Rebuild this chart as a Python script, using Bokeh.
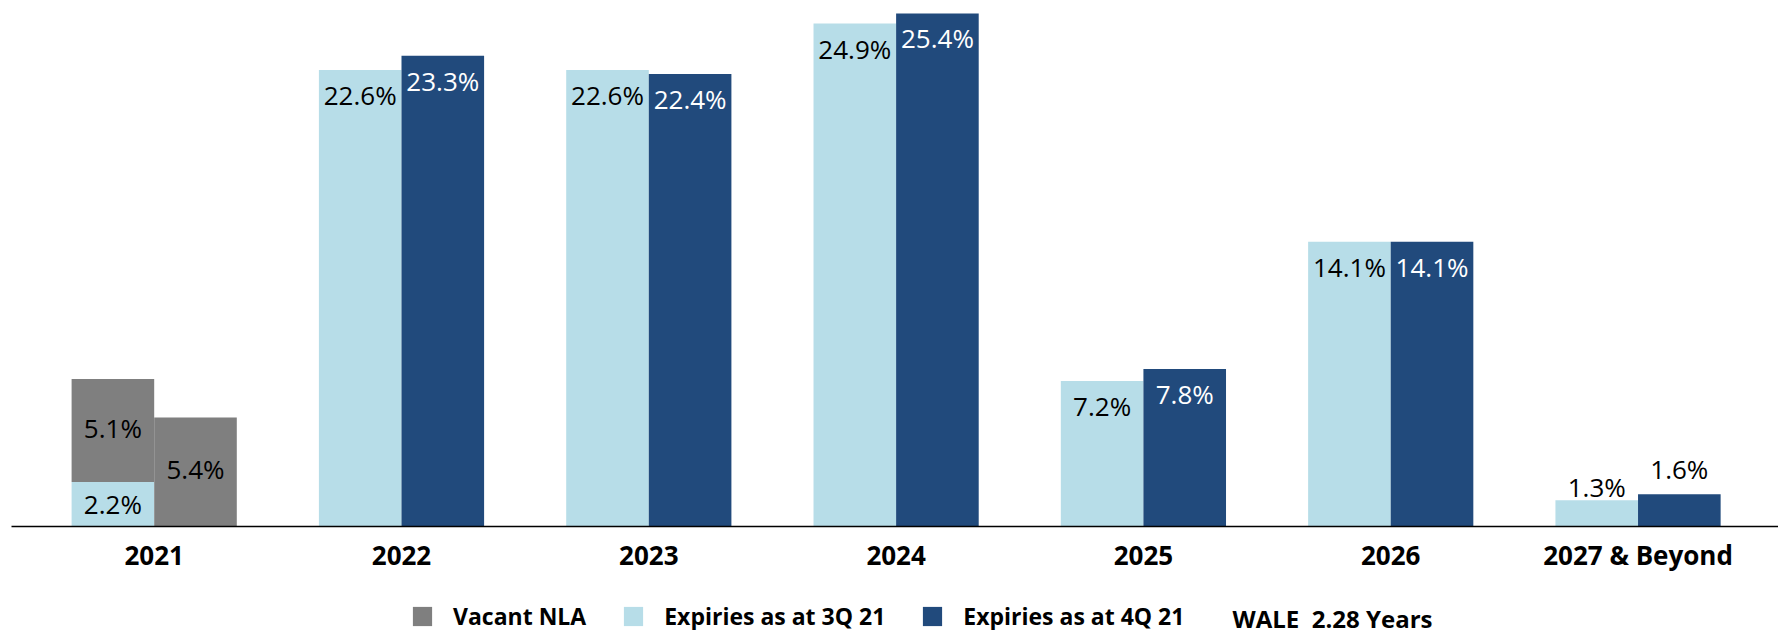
from bokeh.plotting import figure
from bokeh.layouts import column
from bokeh.models import (ColumnDataSource, Range1d, FixedTicker, Legend, LegendItem, Label)
from bokeh.core.properties import value
from bokeh.embed import file_html
from bokeh.resources import INLINE

# ---- data ----
categories = ["2021", "2022", "2023", "2024", "2025", "2026", "2027 & Beyond"]
expiry_3q = [2.2, 22.6, 22.6, 24.9, 7.2, 14.1, 1.3]
expiry_4q = [0.0, 23.3, 22.4, 25.4, 7.8, 14.1, 1.6]
vacant_3q = [5.1, 0, 0, 0, 0, 0, 0]
vacant_4q = [5.4, 0, 0, 0, 0, 0, 0]
wale_years = 2.28
legend_labels = ["Vacant NLA", "Expiries as at 3Q 21", "Expiries as at 4Q 21"]

# ---- styles ----
GREY = "#7f7f7f"
LIGHT = "#b7dde8"
DARK = "#214a7c"
FONT = "Open Sans"
BAR_W = 0.334
HALF = BAR_W / 2

xs = list(range(len(categories)))
x3 = [x - HALF for x in xs]
x4 = [x + HALF for x in xs]

src3 = ColumnDataSource(dict(x=x3, top=expiry_3q))
src4 = ColumnDataSource(dict(x=x4, top=expiry_4q))
vac_x = x3 + x4
vac_bottom = expiry_3q + expiry_4q
vac_top = [b + v for b, v in zip(expiry_3q, vacant_3q)] + [b + v for b, v in zip(expiry_4q, vacant_4q)]
srcv = ColumnDataSource(dict(x=vac_x, bottom=vac_bottom, top=vac_top))

p = figure(width=1778, height=590, output_backend="svg", toolbar_location=None,
           x_range=Range1d(-0.577, 6.568), y_range=Range1d(0, 26.04),
           y_axis_location=None, min_border_left=11, min_border_right=0,
           min_border_top=0, min_border_bottom=64)
p.outline_line_color = None
p.xgrid.visible = False
p.ygrid.visible = False
p.background_fill_color = "white"
p.border_fill_color = "white"

r3 = p.vbar(x="x", top="top", bottom=0, width=BAR_W, source=src3, fill_color=LIGHT, line_color=None)
r4 = p.vbar(x="x", top="top", bottom=0, width=BAR_W, source=src4, fill_color=DARK, line_color=None)
rv = p.vbar(x="x", top="top", bottom="bottom", width=BAR_W, source=srcv, fill_color=GREY, line_color=None)

# ---- data labels ----
lx, ly, lt, lc, lo = [], [], [], [], []
for i in xs:
    stacked = vacant_3q[i] > 0 or vacant_4q[i] > 0
    for (xx, val, vac, inside_col, out_off) in ((x3[i], expiry_3q[i], vacant_3q[i], "black", -13),
                                                 (x4[i], expiry_4q[i], vacant_4q[i], "white", -25)):
        if val > 0:
            lx.append(xx); lt.append(f"{val:.1f}%")
            if stacked:
                ly.append(val / 2); lc.append("black"); lo.append(0)
            elif val >= 5:
                ly.append(val); lc.append(inside_col); lo.append(25)
            else:
                ly.append(val); lc.append("black"); lo.append(out_off)
        if vac > 0:
            lx.append(xx); lt.append(f"{vac:.1f}%")
            ly.append(val + vac / 2); lc.append("black"); lo.append(-3)

lsrc = ColumnDataSource(dict(x=lx, y=ly, text=lt, color=lc, off=lo))
p.text(x="x", y="y", text="text", source=lsrc, text_color="color", y_offset="off",
       text_align="center", text_baseline="middle", text_font=value(FONT),
       text_font_size="26px")

# ---- x axis ----
ax = p.xaxis[0]
ax.ticker = FixedTicker(ticks=xs)
ax.major_label_overrides = {i: c for i, c in enumerate(categories)}
ax.major_label_text_font = FONT
ax.major_label_text_font_size = "26px"
ax.major_label_text_font_style = "bold"
ax.major_label_text_color = "black"
ax.major_tick_line_color = None
ax.minor_tick_line_color = None
ax.axis_line_color = "black"
ax.axis_line_width = 1.5
ax.major_label_standoff = 4

# ---- legend row ----
q = figure(width=1778, height=40, output_backend="svg", toolbar_location=None,
           x_range=Range1d(0, 1), y_range=Range1d(0, 1),
           x_axis_location=None, y_axis_location=None,
           min_border_left=0, min_border_right=0, min_border_top=0, min_border_bottom=0)
q.outline_line_color = None
q.xgrid.visible = False
q.ygrid.visible = False
# zero-height proxy bars: only their colours feed the legend swatches
proxy = dict(x=[0.5], top=[0.0])
dv = q.vbar(x="x", top="top", bottom=0, width=0.001, source=ColumnDataSource(proxy), fill_color=GREY, line_color=None)
d3 = q.vbar(x="x", top="top", bottom=0, width=0.001, source=ColumnDataSource(proxy), fill_color=LIGHT, line_color=None)
d4 = q.vbar(x="x", top="top", bottom=0, width=0.001, source=ColumnDataSource(proxy), fill_color=DARK, line_color=None)

legend = Legend(items=[LegendItem(label=legend_labels[0], renderers=[dv]),
                       LegendItem(label=legend_labels[1], renderers=[d3]),
                       LegendItem(label=legend_labels[2], renderers=[d4])],
                location=(399, -2), orientation="horizontal",
                glyph_width=24, glyph_height=24, label_standoff=19, spacing=35,
                padding=0, margin=0, border_line_color=None, background_fill_alpha=0,
                label_text_font=FONT, label_text_font_size="23px",
                label_text_font_style="bold", label_text_color="black")
q.add_layout(legend)

wale = Label(x=1221, y=12, x_units="screen", y_units="screen",
             text=f"WALE\u00a0 {wale_years:.2f} Years", text_font=FONT, text_font_size="24px",
             text_font_style="bold", text_color="black", text_baseline="middle")
q.add_layout(wale)

layout = column(p, q, spacing=0)
open("out.html", "w").write(file_html(layout, INLINE))
